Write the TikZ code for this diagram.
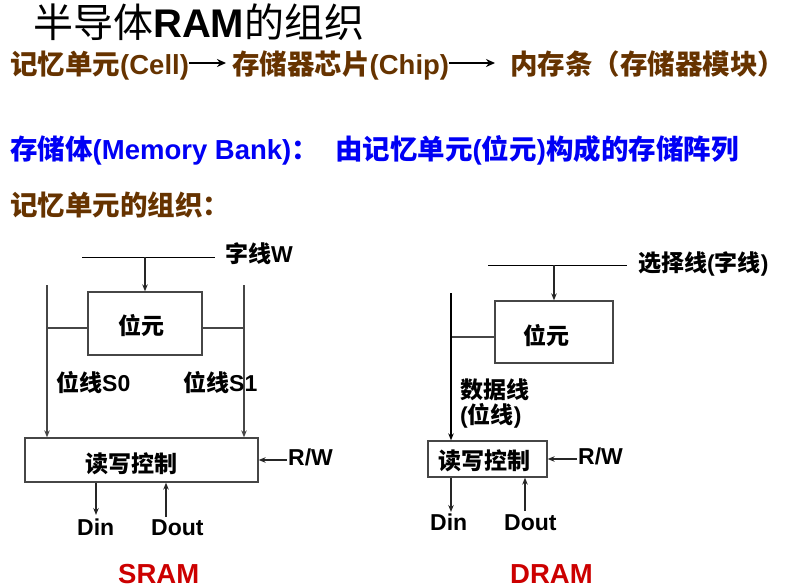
\documentclass[tikz,border=0pt]{standalone}
\usepackage{fontspec}
\setmainfont{Liberation Sans}
\newfontfamily\cjkfont{Noto Sans CJK SC}
\usetikzlibrary{arrows.meta}
\definecolor{brownink}{RGB}{102,51,0}
\definecolor{blueink}{RGB}{0,0,245}
\definecolor{redink}{RGB}{204,0,0}
\definecolor{wire}{RGB}{70,70,70}
\newcommand\zh[1]{{\cjkfont #1}}

\begin{document}
\begin{tikzpicture}[x=1pt,y=-1pt,
  titletext/.style={inner sep=0pt, anchor=base west, font=\fontsize{40}{44}\selectfont},
  headtext/.style={inner sep=0pt, anchor=base west, font=\fontsize{27.5}{32}\selectfont\bfseries},
  lbl/.style={inner sep=0pt, anchor=base west, font=\fontsize{23}{26}\selectfont\bfseries},
  capname/.style={inner sep=0pt, anchor=base west, text=redink, font=\fontsize{27.5}{32}\selectfont\bfseries},
  cellbox/.style={draw=wire, line width=1.3pt, inner sep=0pt, fill=white},
  wireline/.style={draw=wire, line width=1.3pt},
  wordline/.style={draw=black, line width=1pt},
  arr/.style={draw=black!85, line width=1.1pt, -{Stealth[length=7pt,width=5.5pt]}},
  flow/.style={draw=black, line width=2.2pt, -{Stealth[length=9pt,width=8pt]}}
]
\useasboundingbox (0,0) rectangle (787,588);

% heading
\node[titletext] (title) at (33,38) {\zh{半导体}\textbf{RAM}\zh{的组织}};

% hierarchy: cell -> chip -> module
\node[headtext, text=brownink] (cell) at (10,75) {\zh{记忆单元}(Cell)};
\node[headtext, text=brownink] (chip) at (232,75) {\zh{存储器芯片}(Chip)};
\node[headtext, text=brownink] (dimm) at (510,75) {\zh{内存条（存储器模块）}};
\draw[flow] ([yshift=12pt]cell.base east) -- ([yshift=12pt,xshift=-6pt]chip.base west);
\draw[flow] ([yshift=12pt]chip.base east) -- ([yshift=12pt,xshift=-15pt]dimm.base west);

\node[headtext, text=blueink] (bank) at (10,160) {\zh{存储体}(Memory Bank)\zh{：}};
\node[headtext, text=blueink] (bankdef) at (335,160) {\zh{由记忆单元}(\zh{位元})\zh{构成的存储阵列}};

\node[headtext, text=brownink] (org) at (10,215) {\zh{记忆单元的组织：}};

% ---------------- SRAM cell ----------------
\coordinate (sw0) at (82,257);
\coordinate (sw1) at (215,257);
\coordinate (swa) at (145,257);
\draw[wordline] (sw0) -- (sw1);
\node[lbl] (swlab) at (225,262) {\zh{字线}W};

\node[cellbox, minimum width=114pt, minimum height=63pt] (sbit) at (145,323.5) {};
\node[lbl] (sbitlab) at (118,334) {\zh{位元}};
\draw[arr] (swa) -- (sbit.north);

\node[cellbox, minimum width=233pt, minimum height=44pt] (srw) at (141.5,460) {};
\node[lbl] (srwlab) at (85,472) {\zh{读写控制}};

\coordinate (s0t) at (47,285);
\coordinate (s1t) at (244,285);
\draw[wireline] ([yshift=-4.5pt]sbit.west) -- ([yshift=-4.5pt]sbit.west -| s0t);
\draw[wireline] ([yshift=-4.5pt]sbit.east) -- ([yshift=-4.5pt]sbit.east -| s1t);
\draw[arr, draw=wire, line width=1.3pt] (s0t) -- (s0t |- srw.north);
\draw[arr, draw=wire, line width=1.3pt] (s1t) -- (s1t |- srw.north);
\node[lbl] (s0lab) at (56,391) {\zh{位线}S0};
\node[lbl] (s1lab) at (183,391) {\zh{位线}S1};

\coordinate (srwsrc) at (287,460);
\draw[arr] (srwsrc) -- (srw.east);
\node[lbl] (srwin) at (288,465) {R/W};

\coordinate (sdin) at (96,515);
\coordinate (sdout) at (166,517);
\draw[arr] (srw.south -| sdin) -- (sdin);
\draw[arr] (sdout) -- (sdout |- srw.south);
\node[lbl] (sdinlab) at (77,535) {Din};
\node[lbl] (sdoutlab) at (151,535) {Dout};

\node[capname] (sram) at (118,583) {SRAM};

% ---------------- DRAM cell ----------------
\coordinate (dw0) at (488,265);
\coordinate (dw1) at (627,265);
\coordinate (dwa) at (554,265);
\draw[wordline] (dw0) -- (dw1);
\node[lbl] (dwlab) at (638,271) {\zh{选择线}(\zh{字线})};

\node[cellbox, minimum width=118pt, minimum height=62pt] (dbit) at (554,332) {};
\node[lbl] (dbitlab) at (523,344) {\zh{位元}};
\draw[arr] (dwa) -- (dbit.north);

\node[cellbox, minimum width=119pt, minimum height=36pt] (drw) at (487.5,459) {};
\node[lbl] (drwlab) at (438,469) {\zh{读写控制}};

\coordinate (dtop) at (451,293);
\draw[wireline] ([yshift=-5pt]dbit.west) -- ([yshift=-5pt]dbit.west -| dtop);
\draw[arr, draw=black, line width=1.3pt] (dtop) -- (dtop |- drw.north);
\node[lbl] (ddlab) at (460,398) {\zh{数据线}};
\node[lbl] (ddlab2) at (460,423) {(\zh{位线})};

\coordinate (drwsrc) at (577,459);
\draw[arr] (drwsrc) -- (drw.east);
\node[lbl] (drwin) at (578,464) {R/W};

\coordinate (ddin) at (451,512);
\coordinate (ddout) at (525,511);
\draw[arr] (drw.south -| ddin) -- (ddin);
\draw[arr] (ddout) -- (ddout |- drw.south);
\node[lbl] (ddinlab) at (430,530) {Din};
\node[lbl] (ddoutlab) at (504,530) {Dout};

\node[capname] (dram) at (510,583) {DRAM};
\end{tikzpicture}
\end{document}
